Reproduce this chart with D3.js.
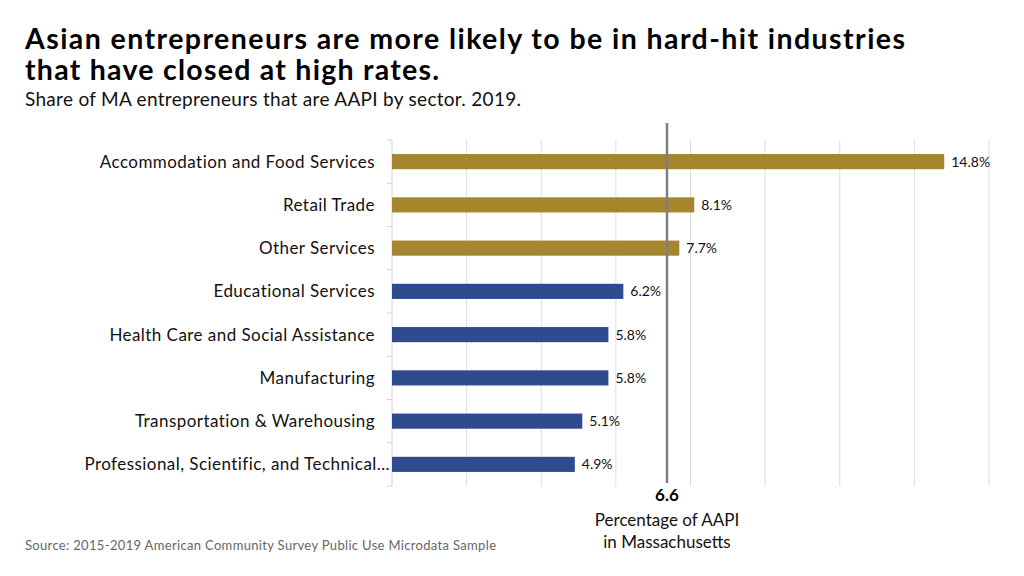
<!DOCTYPE html>
<html>
<head>
<meta charset="utf-8">
<script src="https://cdn.jsdelivr.net/npm/d3@7"></script>
<style>
  html, body { margin: 0; padding: 0; background: #fff; }
  svg { display: block; font-family: Lato, "Open Sans", sans-serif; }
</style>
</head>
<body>
<svg id="chart" width="1024" height="576"></svg>
<script>
const categories = [
  "Accommodation and Food Services",
  "Retail Trade",
  "Other Services",
  "Educational Services",
  "Health Care and Social Assistance",
  "Manufacturing",
  "Transportation & Warehousing",
  "Professional, Scientific, and Technical…"
];
const values = [14.8, 8.1, 7.7, 6.2, 5.8, 5.8, 5.1, 4.9];
const highlighted = [true, true, true, false, false, false, false, false];
const xTicks = [0, 2, 4, 6, 8, 10, 12, 14, 16];
const refLabel = "6.6";
const refPosition = 7.37; // where the reference line sits on the original's axis
const refCaption = ["Percentage of AAPI", "in Massachusetts"];

(function () {
const svg = d3.select("#chart");
const mLeft = 392, mRight = 989, mTop = 140, mBottom = 486;

const x = d3.scaleLinear().domain([0, 16]).range([mLeft, mRight]);
const y = d3.scaleBand().domain(categories).range([mTop, mBottom]).paddingInner(0.65).paddingOuter(0.325);

// title
svg.append("text").attr("x", 25).attr("y", 49).attr("font-size", 28.5).attr("font-weight", 700).attr("fill", "#000")
  .attr("textLength", 880).attr("lengthAdjust", "spacing")
  .text("Asian entrepreneurs are more likely to be in hard-hit industries");
svg.append("text").attr("x", 25).attr("y", 80).attr("font-size", 28.5).attr("font-weight", 700).attr("fill", "#000")
  .attr("textLength", 414).attr("lengthAdjust", "spacing")
  .text("that have closed at high rates.");
svg.append("text").attr("x", 25).attr("y", 106).attr("font-size", 19).attr("fill", "#111")
  .attr("textLength", 496).attr("lengthAdjust", "spacing")
  .text("Share of MA entrepreneurs that are AAPI by sector. 2019.");

// gridlines
svg.append("g").selectAll("line").data(xTicks.slice(1)).join("line")
  .attr("x1", d => x(d)).attr("x2", d => x(d))
  .attr("y1", mTop).attr("y2", mBottom)
  .attr("stroke", "#dcdcdc").attr("stroke-width", 1);

// y axis
const yAxisG = svg.append("g").attr("transform", `translate(${mLeft},0)`);
yAxisG.append("line").attr("x1", 0).attr("x2", 0).attr("y1", mTop).attr("y2", mBottom).attr("stroke", "#d0d0d0");
const step = y.step();
const boundaries = d3.range(categories.length + 1).map(i => mTop + i * step);
yAxisG.selectAll("line.tk").data(boundaries).join("line").attr("class", "tk")
  .attr("x1", -5).attr("x2", 0).attr("y1", d => d).attr("y2", d => d).attr("stroke", "#d0d0d0");

yAxisG.selectAll("text.cat").data(categories).join("text").attr("class", "cat")
  .attr("x", d => d.endsWith("…") ? -2 : -17).attr("y", d => y(d) + y.bandwidth() / 2).attr("dy", "0.35em")
  .attr("text-anchor", "end").attr("font-size", 17).attr("letter-spacing", 0.45).attr("fill", "#111").text(d => d);

// bars
const data = categories.map((c, i) => ({ c, v: values[i], h: highlighted[i] }));
svg.append("g").selectAll("rect").data(data).join("rect")
  .attr("x", x(0)).attr("y", d => y(d.c)).attr("width", d => x(d.v) - x(0)).attr("height", y.bandwidth())
  .attr("fill", d => d.h ? "#A5852D" : "#2F4B90");

svg.append("g").selectAll("text").data(data).join("text")
  .attr("x", d => x(d.v) + 7).attr("y", d => y(d.c) + y.bandwidth() / 2).attr("dy", "0.35em")
  .attr("font-size", 14).attr("fill", "#111").text(d => d.v.toFixed(1) + "%");

// reference line
const rx = x(refPosition);
svg.append("line").attr("x1", rx).attr("x2", rx).attr("y1", 123).attr("y2", 483)
  .attr("stroke", "#7f7f7f").attr("stroke-width", 2.5);
svg.append("text").attr("x", rx).attr("y", 501).attr("text-anchor", "middle")
  .attr("font-size", 17).attr("font-weight", 700).attr("fill", "#000").text(refLabel);
refCaption.forEach((t, i) => {
  svg.append("text").attr("x", rx).attr("y", 526 + i * 22).attr("text-anchor", "middle")
    .attr("font-size", 17).attr("fill", "#111").text(t);
});

// source
svg.append("text").attr("x", 25).attr("y", 550).attr("font-size", 13).attr("fill", "#666")
  .attr("textLength", 471).attr("lengthAdjust", "spacing")
  .text("Source: 2015-2019 American Community Survey Public Use Microdata Sample");
})();
</script>
</body>
</html>
